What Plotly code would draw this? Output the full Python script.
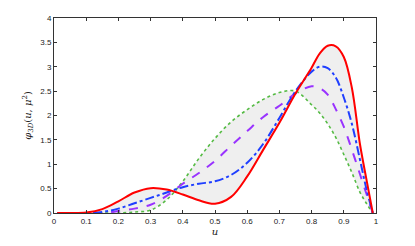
import plotly.graph_objects as go

u = [0.01, 0.05, 0.1, 0.15, 0.2, 0.25, 0.3, 0.35, 0.4, 0.45, 0.5, 0.55, 0.6, 0.65,
     0.7, 0.75, 0.8, 0.825, 0.85, 0.875, 0.9, 0.925, 0.95, 0.97, 0.99]

red = [0, 0, 0.01, 0.08, 0.24, 0.42, 0.51, 0.48, 0.38, 0.26, 0.19, 0.33, 0.75, 1.3,
       1.85, 2.45, 2.98, 3.27, 3.43, 3.42, 3.2, 2.57, 1.42, 0.7, 0]
blue = [0, 0, 0, 0.02, 0.09, 0.2, 0.31, 0.42, 0.53, 0.6, 0.65, 0.78, 1.03, 1.42,
        1.95, 2.5, 2.9, 3.0, 2.97, 2.78, 2.37, 1.83, 1.1, 0.5, 0]
purple = [0, 0, 0, 0, 0.04, 0.09, 0.17, 0.35, 0.6, 0.82, 1.07, 1.38, 1.68, 1.97,
          2.2, 2.45, 2.6, 2.56, 2.43, 2.13, 1.77, 1.3, 0.8, 0.4, 0]
green = [0, 0, 0, 0, 0, 0.02, 0.06, 0.27, 0.65, 1.12, 1.53, 1.87, 2.12, 2.33,
         2.47, 2.5, 2.22, 2.05, 1.83, 1.55, 1.2, 0.83, 0.43, 0.2, 0]

xticks = [0, 0.1, 0.2, 0.3, 0.4, 0.5, 0.6, 0.7, 0.8, 0.9, 1]
xticklabels = ["0", "0.1", "0.2", "0.3", "0.4", "0.5", "0.6", "0.7", "0.8", "0.9", "1"]
yticks = [0, 0.5, 1, 1.5, 2, 2.5, 3, 3.5, 4]
yticklabels = ["0", "0.5", "1", "1.5", "2", "2.5", "3", "3.5", "4"]

fig = go.Figure()
# shaded band between green and red curves
fig.add_trace(go.Scatter(x=u, y=green, mode="lines", line=dict(width=0, shape="spline"),
                         showlegend=False, hoverinfo="skip"))
fig.add_trace(go.Scatter(x=u, y=red, mode="lines", line=dict(width=0, shape="spline"),
                         fill="tonexty", fillcolor="#efefef",
                         showlegend=False, hoverinfo="skip"))

fig.add_trace(go.Scatter(x=u, y=green, mode="lines",
                         line=dict(color="#55bb44", width=1.6, dash="dot", shape="spline"),
                         showlegend=False))
fig.add_trace(go.Scatter(x=u, y=purple, mode="lines",
                         line=dict(color="#9933ff", width=2, dash="dash", shape="spline"),
                         showlegend=False))
fig.add_trace(go.Scatter(x=u, y=blue, mode="lines",
                         line=dict(color="#1f3fff", width=2, dash="dashdot", shape="spline"),
                         showlegend=False))
fig.add_trace(go.Scatter(x=u, y=red, mode="lines",
                         line=dict(color="#ff0000", width=2, shape="spline"),
                         showlegend=False))

axis_common = dict(showgrid=False, zeroline=False, showline=True, linecolor="#333333",
                   linewidth=1, mirror="ticks", ticks="inside", ticklen=3,
                   tickcolor="#333333", tickfont=dict(size=8, color="#222222",
                                                      family="Liberation Sans, Arial"))

fig.update_xaxes(range=[0, 1], tickvals=xticks, ticktext=xticklabels,
                 title=dict(text="<i>u</i>", standoff=1,
                            font=dict(size=10, family="DejaVu Serif", color="#222")),
                 **axis_common)
fig.update_yaxes(range=[0, 4], tickvals=yticks, ticktext=yticklabels,
                 title=dict(text="<i>φ</i><sub>3<i>D</i></sub>(<i>u</i>, <i>μ</i><sup>2</sup>)",
                            standoff=6,
                            font=dict(size=10, family="DejaVu Serif", color="#222")),
                 **axis_common)

fig.update_layout(width=415, height=246,
                  margin=dict(l=54, r=39, t=18, b=28),
                  paper_bgcolor="white", plot_bgcolor="white")

fig.write_html("out.html", config={"displayModeBar": False},
               post_script="document.body.style.margin='0';document.body.style.overflow='hidden';")
